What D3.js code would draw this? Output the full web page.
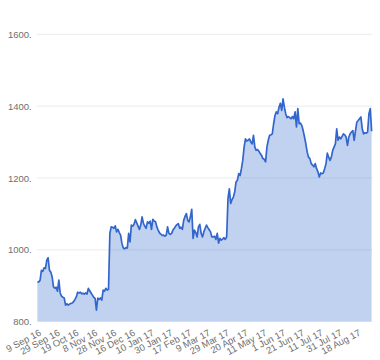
<!DOCTYPE html>
<html>
<head>
<meta charset="utf-8">
<script src="https://cdn.jsdelivr.net/npm/d3@7"></script>
<style>
  html, body { margin: 0; padding: 0; background: #fff; }
  svg { display: block; font-family: Arial, "Liberation Sans", sans-serif; }
</style>
</head>
<body>
<svg id="chart" width="380" height="360"></svg>
<script>
// Tick labels (one every 14 trading days)
const tickLabels = ["9 Sep 16","29 Sep 16","19 Oct 16","8 Nov 16","28 Nov 16","16 Dec 16","10 Jan 17","30 Jan 17","17 Feb 17","9 Mar 17","29 Mar 17","20 Apr 17","11 May 17","1 Jun 17","21 Jun 17","11 Jul 17","31 Jul 17","18 Aug 17"];
const tickStep = 14;
const yTicks = [800, 1000, 1200, 1400, 1600];

// Daily closing values (trading days from 9 Sep 16)
const values = [
  910, 911, 915, 943, 940, 950, 948, 971, 978, 943,
  938, 925, 897, 893, 896, 885, 916, 880, 871, 868,
  866, 846, 850, 846, 849, 851, 852, 856, 862, 869,
  882, 880, 882, 878, 879, 877, 880, 877, 893, 886,
  880, 874, 868, 865, 832, 866, 862, 866, 860, 888,
  885, 893, 888, 890, 1046, 1064, 1063, 1060, 1067, 1050,
  1057, 1048, 1041, 1018, 1005, 1003, 1006, 1005, 1046, 1022,
  1069, 1066, 1071, 1084, 1075, 1066, 1057, 1069, 1092, 1074,
  1066, 1060, 1078, 1074, 1080, 1057, 1085, 1080, 1078, 1064,
  1055, 1047, 1044, 1040, 1041, 1038, 1041, 1064, 1046, 1043,
  1046, 1055, 1060, 1066, 1070, 1073, 1060, 1063, 1057, 1082,
  1093, 1101, 1082, 1078, 1092, 1113, 1032, 1055, 1048, 1036,
  1064, 1071, 1046, 1036, 1050, 1060, 1069, 1062, 1056, 1050,
  1036, 1036, 1038, 1029, 1046, 1019, 1032, 1027, 1030, 1034,
  1029, 1036, 1143, 1170, 1129, 1140, 1147, 1161, 1189, 1194,
  1212, 1207, 1226, 1249, 1286, 1309, 1303, 1305, 1309, 1300,
  1295, 1319, 1286, 1277, 1279, 1275, 1268, 1263, 1254, 1252,
  1245, 1286, 1305, 1319, 1320, 1323, 1351, 1374, 1384, 1379,
  1397, 1408, 1388, 1420, 1397, 1379, 1368, 1371, 1368, 1365,
  1371, 1365, 1384, 1342, 1393, 1351, 1353, 1346, 1332, 1314,
  1295, 1272, 1258, 1254, 1240, 1236, 1231, 1240, 1226, 1217,
  1203, 1214, 1212, 1214, 1226, 1240, 1269, 1258, 1249, 1258,
  1277, 1286, 1295, 1337, 1305, 1314, 1309, 1316, 1323, 1320,
  1314, 1291, 1314, 1323, 1328, 1332, 1305, 1332, 1356, 1360,
  1365, 1370, 1337, 1323, 1326, 1325, 1328, 1379, 1393, 1330
];

const svg = d3.select("#chart");
const plot = { left: 36.7, right: 372.3, top: 34.3, bottom: 321.7 };

const idx = d3.range(values.length);
const x = d3.scalePoint().domain(idx).range([plot.left, plot.right]).padding(0.5);
const y = d3.scaleLinear().domain([800, 1600]).range([plot.bottom, plot.top]);

// Gridlines
svg.append("g").selectAll("line").data(yTicks.filter(d => d !== 800)).join("line")
  .attr("x1", plot.left).attr("x2", plot.right)
  .attr("y1", d => y(d)).attr("y2", d => y(d))
  .attr("stroke", "#ebebeb").attr("stroke-width", 1);

// Area
const area = d3.area().x((d, i) => x(i)).y0(y(800)).y1(d => y(d));
svg.append("path").datum(values)
  .attr("d", area)
  .attr("fill", "#3366cc").attr("fill-opacity", 0.3);

// Line
const line = d3.line().x((d, i) => x(i)).y(d => y(d));
svg.append("path").datum(values)
  .attr("d", line)
  .attr("fill", "none").attr("stroke", "#3366cc").attr("stroke-width", 1.7)
  .attr("stroke-linejoin", "round");

// Y axis
const yAxis = d3.axisLeft(y).tickValues(yTicks).tickSize(0).tickPadding(5)
  .tickFormat(d => d + ".");
const gy = svg.append("g").attr("transform", `translate(${plot.left},0)`).call(yAxis);
gy.select(".domain").remove();
gy.selectAll("text").attr("fill", "#6f6f6f").style("font-size", "9.5px")
  .style("font-family", "Arial, 'Liberation Sans', sans-serif");

// X axis (rotated labels)
const tickIdx = tickLabels.map((t, k) => k * tickStep);
const xAxis = d3.axisBottom(x).tickValues(tickIdx).tickSize(0)
  .tickFormat(d => tickLabels[d / tickStep]);
const gx = svg.append("g").attr("transform", `translate(0,${plot.bottom})`).call(xAxis);
gx.select(".domain").remove();
gx.selectAll("text")
  .attr("fill", "#6f6f6f").style("font-size", "9.5px")
  .style("font-family", "Arial, 'Liberation Sans', sans-serif")
  .attr("text-anchor", "end")
  .attr("dy", null).attr("y", null)
  .attr("transform", "translate(4,13) rotate(-28)");
</script>
</body>
</html>
